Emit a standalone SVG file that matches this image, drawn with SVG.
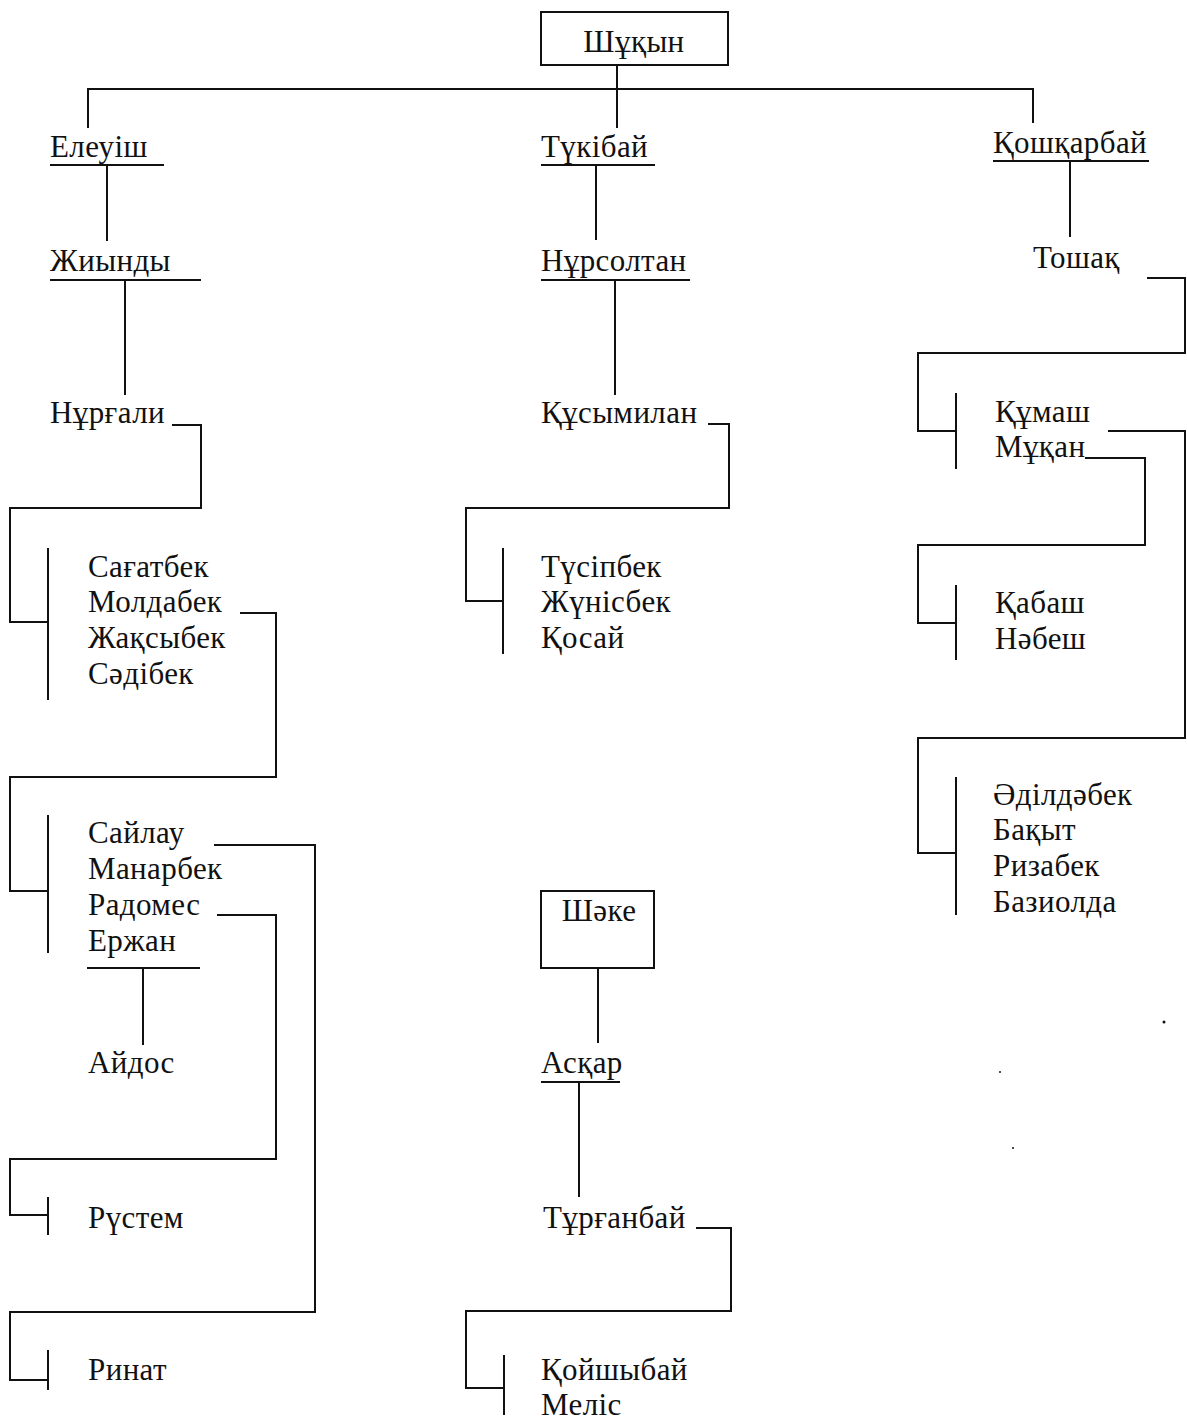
<svg xmlns="http://www.w3.org/2000/svg" width="1187" height="1423" viewBox="0 0 1187 1423">
<style>
text{font-family:"Liberation Serif","Times New Roman",serif;font-size:31px;letter-spacing:0.4px;fill:#111}
.c{text-anchor:middle}
.l{fill:none;stroke:#111;stroke-width:2}
.b{fill:#fff;stroke:#111;stroke-width:2}
</style>
<rect width="1187" height="1423" fill="#fff"/>
<g id="connectors" class="l">
<path class="l" d="M617 65V128M88 128V89H1033V123"/>
<path class="l" d="M50 165H164M107 165V241"/>
<path class="l" d="M50 280H201M125 280V395"/>
<path class="l" d="M172 425H201V508H10V622H48M48 548V700"/>
<path class="l" d="M240 613H276V777H10V891H48M48 815V953"/>
<path class="l" d="M214 845H315V1312H10V1380H48M48 1350V1390"/>
<path class="l" d="M217 915H276V1159H10V1215H48M48 1197V1235"/>
<path class="l" d="M87 968H200M143 968V1045"/>
<path class="l" d="M541 165H655M596 165V240"/>
<path class="l" d="M541 280H690M615 280V395"/>
<path class="l" d="M708 424H729V508H466V601H503M503 548V654"/>
<path class="l" d="M598 968V1043"/>
<path class="l" d="M541 1082H620M579 1082V1197"/>
<path class="l" d="M696 1228H731V1311H466V1388H504M504 1355V1415"/>
<path class="l" d="M993 161H1149M1070 161V237"/>
<path class="l" d="M1147 278H1185V353H918V431H956M956 393V469"/>
<path class="l" d="M1108 431H1185V738H918V853H956M956 777V915"/>
<path class="l" d="M1085 458H1145V545H918V623H956M956 585V660"/>
</g>
<g id="n-shukyn"><rect class="b" x="541" y="12" width="187" height="53"/><text class="c" x="634" y="52">Шұқын</text></g>
<g id="n-eleuish"><text x="50" y="157">Елеуіш</text></g>
<g id="n-zhiyndy"><text x="50" y="271">Жиынды</text></g>
<g id="n-nurgali"><text x="50" y="423">Нұрғали</text></g>
<g id="n-group1"><text x="88" y="577">Сағатбек</text><text x="88" y="612">Молдабек</text><text x="88" y="648">Жақсыбек</text><text x="88" y="684">Сәдібек</text></g>
<g id="n-group2"><text x="88" y="843">Сайлау</text><text x="88" y="879">Манарбек</text><text x="88" y="915">Радомес</text><text x="88" y="951">Ержан</text></g>
<g id="n-aidos"><text x="88" y="1073">Айдос</text></g>
<g id="n-rustem"><text x="88" y="1228">Рүстем</text></g>
<g id="n-rinat"><text x="88" y="1380">Ринат</text></g>
<g id="n-tukibai"><text x="541" y="157">Түкібай</text></g>
<g id="n-nursoltan"><text x="541" y="271">Нұрсолтан</text></g>
<g id="n-kusymilan"><text x="541" y="423">Құсымилан</text></g>
<g id="n-group3"><text x="541" y="577">Түсіпбек</text><text x="541" y="612">Жүнісбек</text><text x="541" y="648">Қосай</text></g>
<g id="n-shake"><rect class="b" x="541" y="891" width="113" height="77"/><text class="c" x="599" y="921">Шәке</text></g>
<g id="n-askar"><text x="541" y="1073">Асқар</text></g>
<g id="n-turganbai"><text x="543" y="1228">Тұрғанбай</text></g>
<g id="n-group4"><text x="541" y="1380">Қойшыбай</text><text x="541" y="1415">Меліс</text></g>
<g id="n-koshkarbai"><text x="993" y="153">Қошқарбай</text></g>
<g id="n-toshak"><text x="1033" y="268">Тошақ</text></g>
<g id="n-group5"><text x="995" y="422">Құмаш</text><text x="995" y="457">Мұқан</text></g>
<g id="n-group6"><text x="995" y="613">Қабаш</text><text x="995" y="649">Нәбеш</text></g>
<g id="n-group7"><text x="993" y="805">Әділдәбек</text><text x="993" y="840">Бақыт</text><text x="993" y="876">Ризабек</text><text x="993" y="912">Базиолда</text></g>
<g id="specks" fill="#111"><circle cx="1164" cy="1022" r="1.5"/><circle cx="1000" cy="1072" r="1"/><circle cx="1013" cy="1148" r="1"/></g>
</svg>
